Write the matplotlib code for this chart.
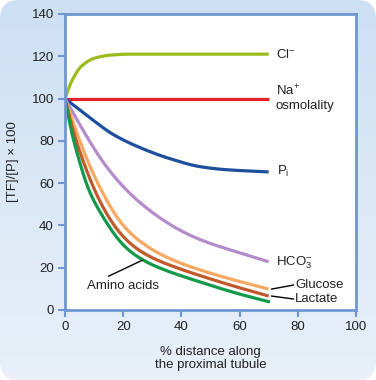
import numpy as np
import matplotlib
matplotlib.use("Agg")
import matplotlib.pyplot as plt
from matplotlib.patches import FancyBboxPatch
from matplotlib.colors import LinearSegmentedColormap

plt.rcParams['font.family'] = ['Liberation Sans', 'DejaVu Sans']
plt.rcParams['mathtext.fontset'] = 'custom'
plt.rcParams['mathtext.rm'] = 'Liberation Sans'
plt.rcParams['mathtext.it'] = 'Liberation Sans'
plt.rcParams['mathtext.default'] = 'regular'

# ---- data ----
cl_x = [0, 2.4, 5.8, 10.4, 16, 22, 70]
cl_y = [100, 108.5, 115.5, 119.2, 120.6, 121, 121]

na_x = [0, 70]
na_y = [100, 100]

pi_x = [0, 8, 17.2, 29.2, 36, 46.4, 55, 70]
pi_y = [100, 91.5, 82.5, 74.9, 71.6, 67.8, 66.4, 65.3]

hco3_x = [0, 5.8, 11.6, 18.9, 29.2, 34.9, 45.2, 57.8, 70]
hco3_y = [100, 86, 73, 60, 47, 41.5, 34, 28, 22.8]

glu_x = [0, 3, 8.1, 12, 18.9, 25.8, 34.9, 45.2, 57.8, 70]
glu_y = [100, 88, 69.5, 58, 42, 32.5, 25, 19.5, 14.3, 9.9]

lac_x = [0, 2.2, 6.1, 9.8, 12, 18.9, 25.8, 34.9, 45.2, 57.8, 70]
lac_y = [100, 88, 71, 58, 51.5, 36.5, 28, 21.8, 16.8, 11.4, 6.6]

amino_x = [0, 2.4, 4.1, 7.6, 12, 18.9, 25.8, 34.9, 45.2, 57.8, 70.4]
amino_y = [100, 83.5, 74.5, 59, 46.5, 32.5, 24.5, 18.6, 13.8, 8.4, 3.8]

x_ticks = [0, 20, 40, 60, 80, 100]
y_ticks = [0, 20, 40, 60, 80, 100, 120, 140]


def spline(xs, ys, n=400):
    """Natural cubic spline rendering through the read points."""
    x = np.asarray(xs, float)
    y = np.asarray(ys, float)
    k = len(x)
    h = np.diff(x)
    A = np.zeros((k, k))
    b = np.zeros(k)
    A[0, 0] = 1
    A[-1, -1] = 1
    for i in range(1, k - 1):
        A[i, i - 1] = h[i - 1]
        A[i, i] = 2 * (h[i - 1] + h[i])
        A[i, i + 1] = h[i]
        b[i] = 6 * ((y[i + 1] - y[i]) / h[i] - (y[i] - y[i - 1]) / h[i - 1])
    M = np.linalg.solve(A, b)
    xx = np.linspace(x[0], x[-1], n)
    idx = np.clip(np.searchsorted(x, xx) - 1, 0, k - 2)
    x0, x1 = x[idx], x[idx + 1]
    hh = h[idx]
    yy = (M[idx] * (x1 - xx) ** 3 / (6 * hh) + M[idx + 1] * (xx - x0) ** 3 / (6 * hh)
          + (y[idx] / hh - M[idx] * hh / 6) * (x1 - xx)
          + (y[idx + 1] / hh - M[idx + 1] * hh / 6) * (xx - x0))
    return xx, yy


def pchip(xs, ys, n=400):
    """Monotone cubic rendering (no overshoot) through the read points."""
    x = np.asarray(xs, float)
    y = np.asarray(ys, float)
    h = np.diff(x)
    d = np.diff(y) / h
    m = np.zeros_like(x)
    m[0] = d[0]
    m[-1] = d[-1]
    for i in range(1, len(x) - 1):
        if d[i - 1] * d[i] <= 0:
            m[i] = 0
        else:
            w1 = 2 * h[i] + h[i - 1]
            w2 = h[i] + 2 * h[i - 1]
            m[i] = (w1 + w2) / (w1 / d[i - 1] + w2 / d[i])
    xx = np.linspace(x[0], x[-1], n)
    idx = np.clip(np.searchsorted(x, xx) - 1, 0, len(x) - 2)
    t = (xx - x[idx]) / h[idx]
    yy = ((2 * t**3 - 3 * t**2 + 1) * y[idx] + (t**3 - 2 * t**2 + t) * h[idx] * m[idx]
          + (-2 * t**3 + 3 * t**2) * y[idx + 1] + (t**3 - t**2) * h[idx] * m[idx + 1])
    return xx, yy


W, H = 376, 380
fig = plt.figure(figsize=(W / 100, H / 100), dpi=100)
fig.patch.set_facecolor('white')

# background rounded gradient panel
bg = fig.add_axes([0, 0, 1, 1])
bg.set_xlim(0, 1); bg.set_ylim(0, 1); bg.axis('off')
grad = np.linspace(0, 1, 256).reshape(-1, 1)
cmap = LinearSegmentedColormap.from_list('bgc', ['#e9f0f9', '#cde0f3'])
im = bg.imshow(grad, extent=[0, 1, 0, 1], origin='lower', cmap=cmap, aspect='auto')
box = FancyBboxPatch((0.0, 0.0), 1.0, 1.0, boxstyle='round,pad=0,rounding_size=0.05',
                     transform=bg.transAxes, facecolor='none', edgecolor='none')
bg.add_patch(box)
im.set_clip_path(box)

ax = fig.add_axes([65 / W, 1 - 310 / H, (356 - 65) / W, (310 - 14) / H])
ax.set_facecolor('white')
ax.set_xlim(0, 100)
ax.set_ylim(0, 140)

spine_c = '#6f96d2'
for s in ax.spines.values():
    s.set_color(spine_c)
    s.set_linewidth(2)
ax.tick_params(direction='out', length=5, width=1.5, color=spine_c,
               labelsize=9.5, labelcolor='#222222', pad=3)
ax.set_xticks(x_ticks)
ax.set_yticks(y_ticks)

lw = 2.3
series = [
    (cl_x, cl_y, '#9cbc1c', pchip),
    (na_x, na_y, '#e41f26', None),
    (pi_x, pi_y, '#1c4f9d', pchip),
    (hco3_x, hco3_y, '#b48ccb', spline),
    (glu_x, glu_y, '#f8a860', spline),
    (lac_x, lac_y, '#c05a2b', spline),
    (amino_x, amino_y, '#13994a', spline),
]
for xs, ys, c, f in series:
    if f is not None:
        sx, sy = f(xs, ys)
    else:
        sx, sy = xs, ys
    ax.plot(sx, sy, color=c, lw=lw, solid_capstyle='butt')

tc = '#222222'
fs = 9.5
ax.text(72.5, 120.7, 'Cl$^{-}$', fontsize=fs, color=tc, va='center', ha='left')
ax.text(72.5, 103.5, 'Na$^{+}$', fontsize=fs, color=tc, va='center', ha='left')
ax.text(72.5, 96.5, 'osmolality', fontsize=fs, color=tc, va='center', ha='left')
ax.text(73, 65.5, 'P$_{i}$', fontsize=fs, color=tc, va='center', ha='left')
ax.text(72.5, 22.5, 'HCO$_{3}^{-}$', fontsize=fs, color=tc, va='center', ha='left')
ax.text(79, 11.8, 'Glucose', fontsize=fs, color=tc, va='center', ha='left')
ax.text(79, 5.2, 'Lactate', fontsize=fs, color=tc, va='center', ha='left')
ax.text(7.5, 11.5, 'Amino acids', fontsize=fs, color=tc, va='center', ha='left')
ax.plot([71, 78.5], [9.9, 11.8], color='black', lw=1)
ax.plot([71, 78.5], [6.6, 5.2], color='black', lw=1)
ax.plot([15, 26.5], [16, 23.5], color='black', lw=1)

ax.set_xlabel('% distance along\nthe proximal tubule', fontsize=fs, color=tc,
              labelpad=9, linespacing=1.2)
ax.set_ylabel('[TF]/[P] × 100', fontsize=fs, color=tc, labelpad=9)

fig.savefig('out.png', dpi=100, facecolor='white')
